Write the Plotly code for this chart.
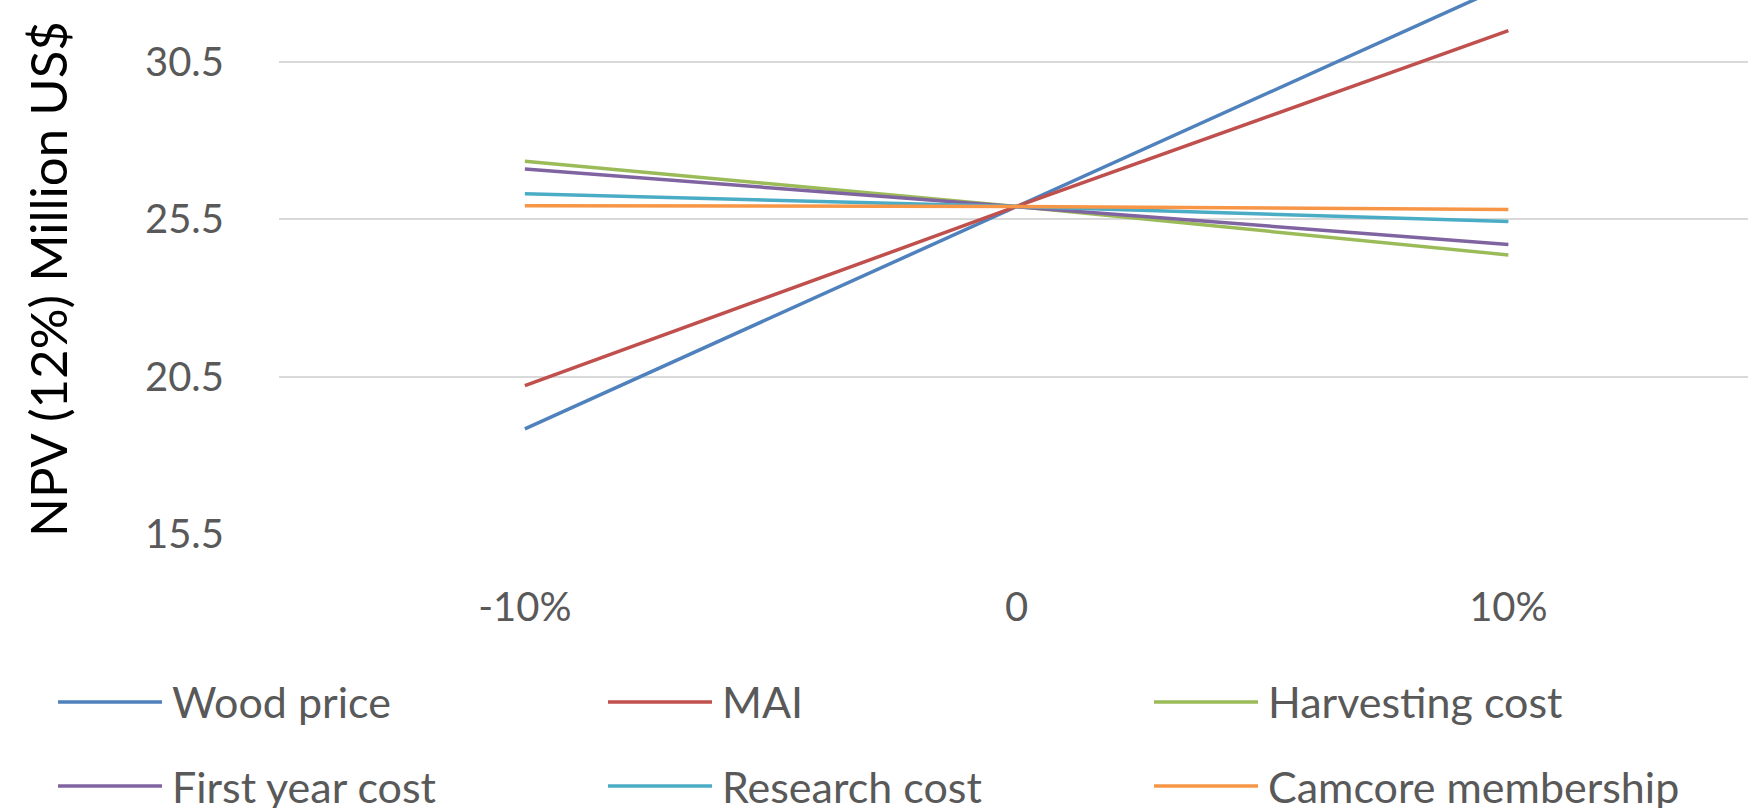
import plotly.graph_objects as go

# Sensitivity scenarios (change applied to each variable)
scenarios = ["-10%", "0", "10%"]
scenario_pos = [0, 1, 2]

# NPV (12%) in million US$ for each variable under each scenario
wood_price = [18.84, 25.90, 32.95]
mai = [20.21, 25.90, 31.48]
harvesting_cost = [27.33, 25.90, 24.36]
first_year_cost = [27.09, 25.90, 24.69]
research_cost = [26.30, 25.90, 25.42]
camcore_membership = [25.92, 25.90, 25.80]

series_names = ["Wood price", "MAI", "Harvesting cost",
                "First year cost", "Research cost", "Camcore membership"]
series_values = [wood_price, mai, harvesting_cost,
                 first_year_cost, research_cost, camcore_membership]
series_colors = ["#4F81BD", "#C0504D", "#9BBB59",
                 "#8064A2", "#4BACC6", "#F79646"]

y_ticks = [15.5, 20.5, 25.5, 30.5]
y_title = "NPV (12%) Million US$"

W, H = 1748, 808
L, B = 279, 274          # plot area left edge / bottom margin (px)
plot_w = W - L
plot_h = H - B
cat_px = 491.75          # width of one category slot (px)
unit_px = 31.5           # px per million US$

FONT = "Lato, 'Open Sans', sans-serif"
GREY = "#595959"

fig = go.Figure()
for name, vals, col in zip(series_names, series_values, series_colors):
    fig.add_trace(go.Scatter(
        x=scenario_pos, y=vals, name=name, mode="lines",
        line=dict(color=col, width=3.5), showlegend=False,
    ))

fig.update_layout(
    width=W, height=H,
    margin=dict(l=L, r=0, t=0, b=B, pad=0),
    paper_bgcolor="white", plot_bgcolor="white",
    font=dict(family=FONT, color=GREY),
    xaxis=dict(
        range=[-0.5, -0.5 + plot_w / cat_px],
        tickvals=scenario_pos, ticktext=scenarios,
        showgrid=False, zeroline=False, showline=False,
        ticks="", tickfont=dict(size=40, color=GREY),
        ticklabelstandoff=46,
    ),
    yaxis=dict(
        range=[15.5, 15.5 + plot_h / unit_px],
        tickvals=y_ticks, ticktext=[f"{v:.1f}" for v in y_ticks],
        showgrid=True, gridcolor="#D9D9D9", gridwidth=2,
        zeroline=False, showline=False, ticks="",
        tickfont=dict(size=40, color=GREY),
        ticklabelstandoff=54,
    ),
)

# Vertical value-axis title, placed to the left of the tick labels
fig.add_annotation(xref="paper", yref="paper",
                   x=(47 - L) / plot_w, y=(plot_h - 279) / plot_h,
                   xanchor="center", yanchor="middle",
                   text=y_title, textangle=-90, showarrow=False,
                   font=dict(size=51, color="black", family=FONT))

# Legend: two rows of three entries below the plot
col_x = [58, 608, 1154]
row_y = [702, 786]
seg_len = 104
for i, (name, col) in enumerate(zip(series_names, series_colors)):
    px = col_x[i % 3]
    py = row_y[i // 3]
    x0 = (px - L) / plot_w
    x1 = (px + seg_len - L) / plot_w
    yy = (plot_h - py) / plot_h
    fig.add_shape(type="line", xref="paper", yref="paper",
                  x0=x0, x1=x1, y0=yy, y1=yy,
                  line=dict(color=col, width=3.5))
    fig.add_annotation(xref="paper", yref="paper",
                       x=(px + seg_len + 8 - L) / plot_w, y=yy,
                       xanchor="left", yanchor="middle",
                       text=name, showarrow=False,
                       font=dict(size=43, color=GREY, family=FONT))

fig.write_html("out.html")
